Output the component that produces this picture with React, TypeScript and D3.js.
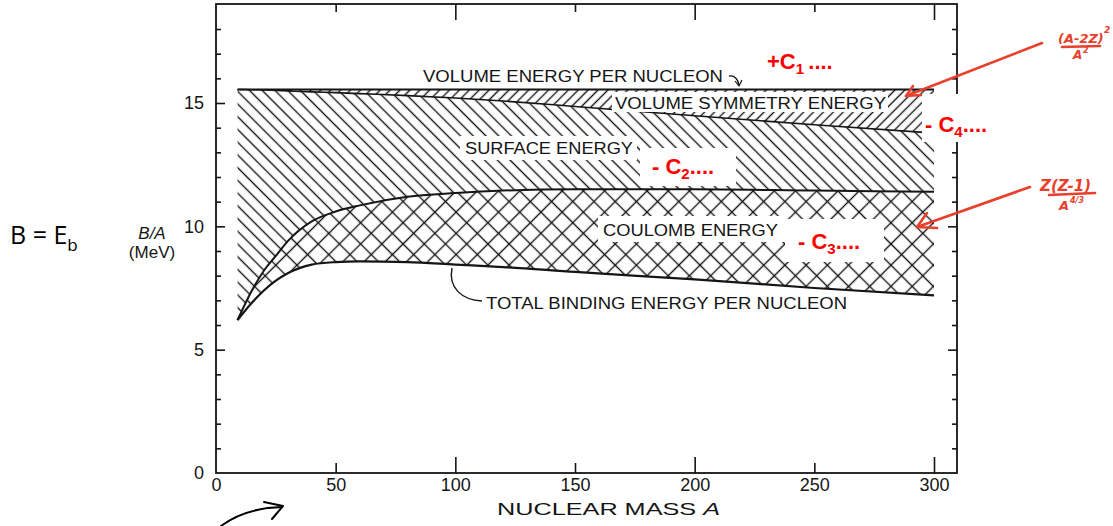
import React, { useEffect, useRef } from "react";
import * as d3 from "d3";

// values (MeV per nucleon)
const massNumbers = [9, 15, 20, 25, 30, 40, 50, 60, 80, 100, 120, 150, 200, 250, 300];
const volumeEnergy = [15.55, 15.55, 15.55, 15.55, 15.55, 15.55, 15.55, 15.55, 15.55, 15.55, 15.55, 15.55, 15.55, 15.55, 15.55];
const afterSymmetry = [15.55, 15.54, 15.53, 15.51, 15.49, 15.45, 15.42, 15.38, 15.3, 15.2, 15.08, 14.86, 14.48, 14.12, 13.78];
const afterSurface = [6.2, 7.4, 8.2, 8.8, 9.4, 10.2, 10.6, 10.85, 11.2, 11.35, 11.45, 11.5, 11.5, 11.45, 11.4];
const totalBinding = [6.2, 6.9, 7.4, 7.8, 8.1, 8.45, 8.55, 8.58, 8.55, 8.45, 8.35, 8.15, 7.85, 7.5, 7.2];

const xTicks = [0, 50, 100, 150, 200, 250, 300];
const xMajor = [100, 200, 300];
const yTicks = [0, 5, 10, 15];
const yMinor = d3.range(1, 19);

const FONT = "'Liberation Sans', Arial, Helvetica, sans-serif";
const INK = "#151515";
const RED = "#ff0000";
const PEN = "#e8402c";

const App = () => {
  const svgRef = useRef<SVGSVGElement>(null);

  useEffect(() => {
    const svg = d3.select(svgRef.current);
    svg.selectAll("*").remove();

    // plot frame in page pixels
    const left = 216, right = 957, top = 4, bottom = 473;

    const x = d3.scaleLinear().domain([0, 300]).range([left, 934]);
    const y = d3.scaleLinear().domain([0, 15]).range([bottom, 103]);

    const rows = massNumbers.map((a, i) => ({
      a,
      vol: volumeEnergy[i],
      sym: afterSymmetry[i],
      surf: afterSurface[i],
      tot: totalBinding[i],
    }));
    type Row = (typeof rows)[number];

    // hatch patterns
    const defs = svg.append("defs");
    const hatch = (id: string, size: number, angle: number, cross: boolean) => {
      const p = defs
        .append("pattern")
        .attr("id", id)
        .attr("patternUnits", "userSpaceOnUse")
        .attr("width", size)
        .attr("height", size)
        .attr("patternTransform", `rotate(${angle})`);
      p.append("line")
        .attr("x1", size / 2).attr("y1", 0)
        .attr("x2", size / 2).attr("y2", size)
        .attr("stroke", INK).attr("stroke-width", 1.4);
      if (cross) {
        p.append("line")
          .attr("x1", 0).attr("y1", size / 2)
          .attr("x2", size).attr("y2", size / 2)
          .attr("stroke", INK).attr("stroke-width", 1.4);
      }
    };
    hatch("symHatch", 7, 45, false);
    hatch("surfHatch", 9, -45, false);
    hatch("coulHatch", 15, 45, true);

    const band = (lo: (d: Row) => number, hi: (d: Row) => number) =>
      d3
        .area<Row>()
        .x((d) => x(d.a))
        .y0((d) => y(lo(d)))
        .y1((d) => y(hi(d)))
        .curve(d3.curveMonotoneX);

    svg.append("path").datum(rows).attr("d", band((d) => d.sym, (d) => d.vol)).attr("fill", "url(#symHatch)");
    svg.append("path").datum(rows).attr("d", band((d) => d.surf, (d) => d.sym)).attr("fill", "url(#surfHatch)");
    svg.append("path").datum(rows).attr("d", band((d) => d.tot, (d) => d.surf)).attr("fill", "url(#coulHatch)");

    const line = (f: (d: Row) => number) =>
      d3.line<Row>().x((d) => x(d.a)).y((d) => y(f(d))).curve(d3.curveMonotoneX);

    [
      { f: (d: Row) => d.vol, w: 2 },
      { f: (d: Row) => d.sym, w: 1.6 },
      { f: (d: Row) => d.surf, w: 2 },
      { f: (d: Row) => d.tot, w: 2.2 },
    ].forEach((c) => {
      svg.append("path").datum(rows).attr("d", line(c.f)).attr("fill", "none")
        .attr("stroke", INK).attr("stroke-width", c.w);
    });

    // frame
    svg.append("rect")
      .attr("x", left).attr("y", top)
      .attr("width", right - left).attr("height", bottom - top)
      .attr("fill", "none").attr("stroke", INK).attr("stroke-width", 1.8);

    // ticks, all pointing inwards
    const tickGroup = (axis: d3.Axis<d3.NumberValue>, tx: number, ty: number) => {
      const g = svg.append("g").attr("transform", `translate(${tx},${ty})`).call(axis);
      g.select(".domain").remove();
      g.selectAll("line").attr("stroke", INK).attr("stroke-width", 1.6);
      g.selectAll("text").remove();
    };
    const xMinor = xTicks.filter((v) => v > 0 && !xMajor.includes(v));
    tickGroup(d3.axisTop(x).tickValues(xMajor).tickSize(16), 0, bottom);
    tickGroup(d3.axisTop(x).tickValues(xMinor).tickSize(10), 0, bottom);
    tickGroup(d3.axisBottom(x).tickValues(xMajor).tickSize(16), 0, top);
    tickGroup(d3.axisBottom(x).tickValues(xMinor).tickSize(8), 0, top);
    tickGroup(d3.axisRight(y).tickValues(yTicks.filter((v) => v > 0)).tickSize(9), left, 0);
    tickGroup(d3.axisRight(y).tickValues(yMinor.filter((v) => v % 5)).tickSize(5), left, 0);
    tickGroup(d3.axisLeft(y).tickValues(yTicks.filter((v) => v > 0)).tickSize(9), right, 0);
    tickGroup(d3.axisLeft(y).tickValues(yMinor.filter((v) => v % 5)).tickSize(5), right, 0);

    // tick labels
    const xLab = svg.append("g").attr("transform", `translate(0,${bottom})`)
      .call(d3.axisBottom(x).tickValues(xTicks).tickSize(0).tickPadding(5).tickFormat(d3.format("d")));
    xLab.select(".domain").remove();
    xLab.selectAll("text").attr("font-family", FONT).attr("font-size", 18).attr("fill", INK);

    const yLab = svg.append("g").attr("transform", `translate(${left},0)`)
      .call(d3.axisLeft(y).tickValues(yTicks).tickSize(0).tickPadding(12).tickFormat(d3.format("d")));
    yLab.select(".domain").remove();
    yLab.selectAll("text").attr("font-family", FONT).attr("font-size", 18).attr("fill", INK);

    // white boxes behind labels
    const box = (bx: number, by: number, bw: number, bh: number) =>
      svg.append("rect").attr("x", bx).attr("y", by).attr("width", bw).attr("height", bh).attr("fill", "#fff");
    box(612, 92, 276, 20);
    box(460, 136, 177, 24);
    box(640, 148, 96, 38);
    box(598, 216, 187, 26);
    box(785, 219, 99, 43);
    box(922, 94, 72, 48);

    const label = (t: string, tx: number, ty: number, len: number, size = 16) =>
      svg.append("text").attr("x", tx).attr("y", ty).attr("font-family", FONT)
        .attr("font-size", size).attr("fill", INK)
        .attr("textLength", len).attr("lengthAdjust", "spacingAndGlyphs").text(t);

    label("VOLUME ENERGY PER NUCLEON", 423, 82, 300);
    label("VOLUME SYMMETRY ENERGY", 615, 109, 271);
    label("SURFACE ENERGY", 465, 154, 168);
    label("COULOMB ENERGY", 603, 236, 175);
    label("TOTAL BINDING ENERGY PER NUCLEON", 486, 309, 361);

    const xTitle = svg.append("text").attr("x", 497).attr("y", 515).attr("font-family", FONT)
      .attr("font-size", 17).attr("fill", INK).attr("textLength", 223).attr("lengthAdjust", "spacingAndGlyphs");
    xTitle.append("tspan").text("NUCLEAR MASS ");
    xTitle.append("tspan").attr("font-style", "italic").text("A");

    svg.append("text").attr("x", 152).attr("y", 239).attr("text-anchor", "middle")
      .attr("font-family", FONT).attr("font-size", 17).attr("font-style", "italic").attr("fill", INK).text("B/A");
    svg.append("text").attr("x", 152).attr("y", 258).attr("text-anchor", "middle")
      .attr("font-family", FONT).attr("font-size", 17).attr("fill", INK).text("(MeV)");

    const beq = svg.append("text").attr("x", 10).attr("y", 244).attr("font-family", "'Open Sans', sans-serif")
      .attr("font-size", 25).attr("fill", "#000");
    beq.append("tspan").text("B = E");
    beq.append("tspan").attr("font-size", 17).attr("dy", 7).text("b");

    // leaders
    svg.append("path").attr("d", "M729,76 Q737,75 739,85").attr("fill", "none").attr("stroke", INK).attr("stroke-width", 1.4);
    svg.append("path").attr("d", "M735,81 L739,86 L742,80").attr("fill", "none").attr("stroke", INK).attr("stroke-width", 1.2);
    svg.append("path").attr("d", "M452,268 C448,288 462,300 482,301").attr("fill", "none").attr("stroke", INK).attr("stroke-width", 1.4);

    // red term labels
    const term = (tx: number, ty: number, sign: string, sub: string, size = 22) => {
      const t = svg.append("text").attr("x", tx).attr("y", ty).attr("font-family", FONT)
        .attr("font-weight", "bold").attr("font-size", size).attr("fill", RED);
      t.append("tspan").text(`${sign}C`);
      t.append("tspan").attr("font-size", 15).attr("dy", 5).text(sub);
      t.append("tspan").attr("dy", -5).text("....");
    };
    term(767, 69, "+", "1 ");
    term(652, 174, "- ", "2");
    term(798, 249, "- ", "3");
    term(925, 132, "- ", "4");

    // handwritten notes
    const pen = (d: string) =>
      svg.append("path").attr("d", d).attr("fill", "none").attr("stroke", PEN)
        .attr("stroke-width", 2.6).attr("stroke-linecap", "round").attr("stroke-linejoin", "round");
    const note = (t: string, tx: number, ty: number, size: number) =>
      svg.append("text").attr("x", tx).attr("y", ty).attr("font-family", "'DejaVu Sans', sans-serif")
        .attr("font-weight", "bold").attr("font-style", "italic").attr("font-size", size).attr("fill", PEN).text(t);

    note("(A-2Z)", 1058, 43, 13);
    note("2", 1104, 33, 9);
    pen("M1062,47 L1100,46");
    note("A", 1073, 59, 12);
    note("2", 1083, 53, 8);
    pen("M1042,43 L906,96");
    pen("M913,86 L906,96 L921,95");

    note("Z(Z-1)", 1040, 191, 15);
    pen("M1049,195 L1095,193");
    note("A", 1059, 210, 13);
    note("4/3", 1070, 203, 8);
    pen("M1030,187 L917,227");
    pen("M927,213 L917,227 L937,228");

    svg.append("path").attr("d", "M221,526 Q245,508 282,507").attr("fill", "none").attr("stroke", "#000")
      .attr("stroke-width", 2).attr("stroke-linecap", "round");
    svg.append("path").attr("d", "M264,502 L283,506 L272,519").attr("fill", "none").attr("stroke", "#000")
      .attr("stroke-width", 2).attr("stroke-linecap", "round").attr("stroke-linejoin", "round");
  }, []);

  return (
    <svg
      ref={svgRef}
      width={1113}
      height={526}
      style={{ position: "absolute", left: 0, top: 0, background: "#fff" }}
    />
  );
};

export default App;
